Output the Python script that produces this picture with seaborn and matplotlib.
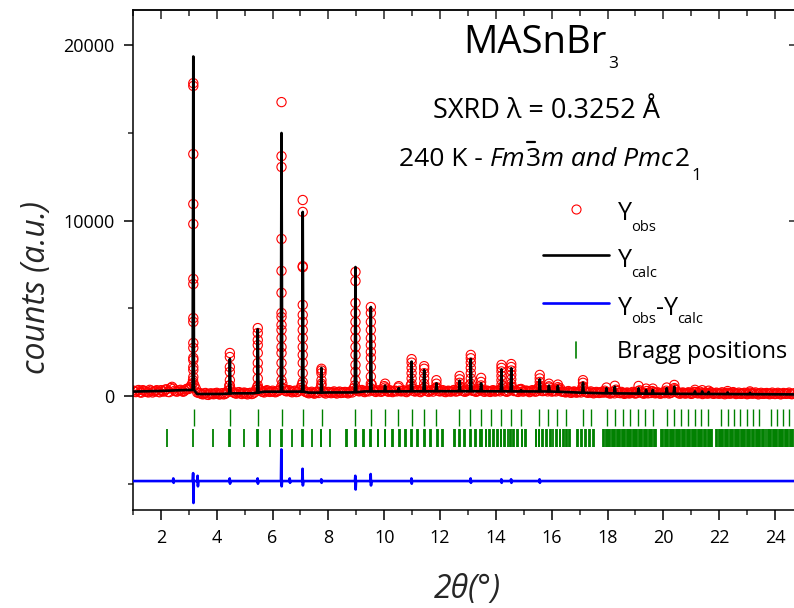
import numpy as np
import matplotlib
matplotlib.use("Agg")
import matplotlib.pyplot as plt
from matplotlib.ticker import MultipleLocator, FixedLocator
from matplotlib.lines import Line2D
import seaborn as sns

# ---------------- data ----------------
# calculated-profile baseline anchors
calc_base_x = [1.0, 2.0, 2.9, 3.3, 3.6, 4.2, 4.6, 5.3, 5.7, 6.2, 7.0, 7.3, 7.7,
               8.0, 8.8, 9.3, 10.5, 12.0, 14.0, 16.0, 17.0, 18.0, 20.0, 22.0, 24.75]
calc_base_y = [250, 285, 340, 110, 110, 115, 150, 150, 245, 245, 250, 190, 190,
               200, 200, 260, 260, 270, 265, 250, 190, 150, 125, 110, 90]

# Bragg peaks: position, calculated height, profile foot
peak_pos = [3.16, 4.47, 5.47, 6.32, 7.08, 7.75, 8.97, 9.52, 10.03, 10.52, 10.98,
            11.43, 11.87, 12.70, 13.10, 13.47, 14.20, 14.55, 14.90, 15.57, 15.90,
            16.22, 17.12, 17.96, 18.26, 19.11, 19.38, 19.62, 20.12, 20.39, 21.13,
            21.39, 21.62, 22.30, 23.10]
peak_calc = [19350, 2110, 3800, 14990, 10490, 1600, 7350, 5070, 590, 450, 1960,
             1480, 720, 870, 2110, 720, 1520, 1580, 330, 950, 590,
             570, 760, 440, 530, 440, 340, 340, 440, 530, 260,
             260, 230, 200, 180]
peak_foot = [340, 140, 190, 245, 240, 190, 210, 260, 260, 260, 265,
             265, 268, 270, 268, 268, 265, 263, 260, 258, 255,
             240, 185, 150, 147, 135, 130, 128, 124, 122, 117,
             115, 113, 108, 100]
# observed points stacked on each peak
peak_obs = [
    [17830, 17670, 13790, 10940, 9800, 6670, 6380, 4440, 4220, 3020, 2740, 2170, 2050, 1650, 1480, 1080, 750],
    [2450, 2220, 1650, 1370, 900, 600],
    [3870, 3590, 3190, 2900, 2450, 1880, 1480, 1000, 600],
    [16750, 13670, 13050, 8950, 7130, 5880, 4730, 4500, 4050, 3760, 3300, 2790, 2450, 1880, 1370, 900],
    [11170, 10490, 7400, 7340, 5190, 4620, 4220, 3760, 3300, 2790, 2340, 1880, 1300, 800],
    [1550, 1450, 1300, 900, 600],
    [7070, 6550, 5300, 4730, 4220, 3760, 3300, 2790, 2340, 1770, 1370, 900],
    [5070, 4730, 4220, 3760, 3300, 2900, 2510, 2170, 1650, 1100, 700],
    [700, 480],
    [560],
    [2100, 1900, 1600, 1300, 1000, 700],
    [1700, 1550, 1300, 1000, 700],
    [900, 700, 500],
    [1140, 950, 750, 550],
    [2340, 2150, 1900, 1600, 1300, 1000, 700],
    [1030, 800, 600],
    [1770, 1600, 1400, 1150, 900, 650],
    [1820, 1650, 1450, 1200, 950, 700],
    [400],
    [1200, 1000, 800, 600],
    [700, 550],
    [650, 500],
    [900, 750, 550],
    [480], [580], [570], [420], [420], [480], [630, 450],
    [350], [330], [300], [280], [260],
]

# observed background, one point every 0.1 deg from 1.0 to 24.7
obs_bg_start, obs_bg_step = 1.0, 0.1
obs_bg = [
    310, 220, 340, 190, 290, 230, 350, 200, 280, 240,
    330, 250, 380, 220, 520, 300, 260, 350, 240, 380,
    400, 650, 600, 200, 160, 90, 170, 60, 150, 100,
    180, 80, 160, 120, 300, 380, 200, 130, 220, 110,
    190, 90, 180, 140, 350, 420, 260, 200, 330, 230,
    300, 210, 280, 500, 420, 260, 330, 210, 300, 240,
    450, 380, 220, 150, 240, 130, 230, 400, 250, 140,
    230, 160, 260, 140, 250, 180, 230, 150, 260, 420,
    380, 260, 340, 220, 300, 460, 350, 230, 320, 240,
    560, 280, 330, 220, 300, 480, 260, 320, 220, 350,
    420, 250, 330, 220, 420, 300, 240, 330, 380, 420,
    260, 330, 220, 300, 250, 340, 260, 420, 300, 240,
    330, 480, 300, 240, 420, 330, 240, 300, 230, 330,
    260, 320, 420, 300, 240, 420, 450, 300, 230, 350,
    260, 300, 220, 330, 250, 420, 450, 280, 330, 480,
    250, 300, 400, 440, 250, 200, 280, 180, 260, 190,
    250, 500, 240, 180, 260, 150, 230, 170, 240, 300,
    220, 140, 230, 360, 180, 230, 120, 200, 150, 230,
    140, 280, 200, 130, 280, 190, 280, 150, 210, 130,
    210, 300, 140, 200, 380, 210, 130, 200, 140, 210,
    120, 230, 160, 250, 110, 200, 140, 220, 120, 190,
    130, 210, 100, 180, 140, 220, 110, 190, 120, 180,
    100, 190, 130, 200, 90, 180, 120, 170, 100, 190,
    110, 180, 90, 170, 120, 190, 100, 160,
]
# observed background at the half steps 1.05 ... 24.65
obs_bg_mid = [
    250, 300, 210, 330, 260, 200, 300, 260, 330, 210,
    280, 360, 230, 450, 420, 250, 320, 280, 300, 420,
    500, 900, 420, 180, 120, 140, 80, 130, 110, 160,
    120, 130, 90, 180, 600, 250, 160, 200, 150, 180,
    130, 160, 110, 200, 500, 330, 230, 280, 260, 250,
    240, 260, 330, 700, 300, 290, 250, 270, 220, 320,
    650, 260, 190, 200, 170, 200, 170, 700, 190, 220,
    200, 210, 180, 220, 170, 220, 190, 210, 200, 600,
    300, 300, 260, 280, 260, 650, 270, 300, 260, 290,
    380, 240, 270, 290, 260, 300, 280, 260, 300, 600,
    290, 300, 260, 300, 500, 260, 300, 250, 450, 280,
    300, 250, 280, 260, 300, 260, 300, 500, 260, 280,
    600, 300, 260, 280, 400, 260, 300, 260, 290, 260,
    300, 260, 550, 260, 300, 550, 280, 260, 380, 260,
    300, 280, 260, 290, 260, 500, 280, 300, 260, 350,
    280, 260, 380, 250, 230, 240, 200, 220, 210, 230,
    200, 380, 200, 210, 190, 200, 190, 200, 190, 210,
    160, 200, 150, 280, 160, 170, 160, 150, 180, 160,
    170, 320, 160, 170, 150, 170, 220, 170, 150, 170,
    160, 230, 170, 260, 330, 150, 170, 150, 170, 150,
    150, 220, 150, 180, 160, 140, 160, 150, 160, 140,
    150, 140, 160, 130, 150, 160, 140, 130, 150, 140,
    130, 140, 150, 130, 140, 120, 150, 130, 140, 120,
    130, 140, 120, 130, 140, 120, 130,
]

# difference curve (offset) and its spikes
diff_level = -4850
diff_x_range = [1.0, 24.75]
diff_spike_pos = [2.45, 3.16, 3.32, 4.47, 5.47, 6.32, 6.62, 7.08, 7.75, 8.97,
                  9.52, 10.98, 13.10, 14.20, 14.55, 15.57]
diff_spike_up = [-4700, -4400, -4550, -4700, -4700, -3050, -4700, -4150, -4750, -4550,
                 -4450, -4700, -4700, -4750, -4750, -4750]
diff_spike_dn = [-4950, -6100, -5150, -5000, -5000, -5150, -4950, -5100, -4950, -5330,
                 -5100, -5000, -4950, -4950, -4950, -4950]

# Bragg positions, phase 1 (Fm-3m) and phase 2 (Pmc2_1)
bragg1 = [3.17, 4.48, 5.49, 6.34, 7.08, 7.76, 8.96, 9.51, 10.03, 10.51, 10.98,
          11.43, 11.87, 12.69, 13.08, 13.46, 13.83, 14.19, 14.55, 14.89, 15.56,
          15.88, 16.20, 16.51, 17.11, 17.41, 17.98, 18.26, 18.54, 18.81, 19.08,
          19.35, 19.61, 20.13, 20.38, 20.63, 20.87, 21.12, 21.36, 21.60, 22.07,
          22.30, 22.53, 22.76, 22.98, 23.20, 23.43, 23.86, 24.08, 24.29, 24.50]
bragg2 = [2.21, 3.14, 3.86, 4.45, 4.47, 4.99, 5.45, 5.48, 5.91, 6.31, 6.34, 6.70,
          7.05, 7.08, 7.40, 7.72, 7.75, 8.06, 8.63, 8.66, 8.95, 8.98, 9.24, 9.27,
          9.50, 9.53, 9.76, 9.79, 10.01, 10.04, 10.27, 10.30, 10.52, 10.55, 10.76,
          10.79, 10.97, 11.00, 11.19, 11.22, 11.43, 11.46, 11.64, 11.67, 11.88,
          11.91, 12.08, 12.11,
          12.49, 12.52, 12.67, 12.70, 12.86, 12.89, 13.08, 13.11, 13.26, 13.29,
          13.44, 13.47, 13.51, 13.63, 13.66, 13.76, 13.80, 13.91, 13.94, 14.03,
          14.06, 14.17, 14.20, 14.29, 14.32, 14.42, 14.51, 14.54, 14.63, 14.66,
          14.76, 14.79, 14.92, 14.95, 15.04, 15.08,
          15.42, 15.45, 15.53, 15.56, 15.65, 15.68, 15.79, 15.82, 15.94, 15.97,
          16.05, 16.17, 16.20, 16.28, 16.31, 16.40, 16.43, 16.51, 16.54, 16.63, 16.66,
          16.92, 16.95, 17.04, 17.07, 17.19, 17.22, 17.35, 17.38, 17.49, 17.52,
          17.84, 17.88, 17.93, 17.97, 18.02, 18.06, 18.10, 18.15, 18.19, 18.24,
          18.28, 18.33, 18.37, 18.41, 18.46, 18.50, 18.54, 18.59, 18.63, 18.68,
          18.72, 18.77, 18.81, 18.85, 18.90, 18.94, 18.99, 19.03, 19.07, 19.12,
          19.16, 19.21, 19.25, 19.29, 19.34, 19.38, 19.43, 19.47, 19.51, 19.56,
          19.60, 19.65, 19.69, 19.74,
          19.91, 19.95, 20.00, 20.04, 20.08, 20.13, 20.17, 20.22, 20.26, 20.30,
          20.35, 20.39, 20.44, 20.48, 20.52, 20.57, 20.61, 20.66, 20.70, 20.74,
          20.79, 20.83, 20.88, 20.92, 20.96, 21.01, 21.05, 21.10, 21.14, 21.18,
          21.23, 21.27, 21.32, 21.36, 21.40, 21.45, 21.49, 21.54, 21.58, 21.62,
          21.67, 21.71, 21.75,
          21.89, 21.93, 21.98, 22.02, 22.06, 22.11, 22.15, 22.20, 22.24, 22.28,
          22.33, 22.37, 22.42, 22.46, 22.50, 22.55, 22.59, 22.64, 22.68, 22.72,
          22.77, 22.81, 22.86, 22.90, 22.94, 22.99, 23.03, 23.08, 23.12, 23.16,
          23.21, 23.25, 23.30, 23.34, 23.38, 23.43, 23.47, 23.52, 23.56, 23.59,
          23.69, 23.73, 23.78, 23.82, 23.86, 23.91, 23.95, 24.00, 24.04, 24.08,
          24.13, 24.17, 24.22, 24.26, 24.30, 24.35, 24.39, 24.44, 24.48, 24.52,
          24.57, 24.61, 24.66, 24.70]
bragg1_span = [-740, -1710]
bragg2_span = [-1890, -2910]

x_ticks = [2, 4, 6, 8, 10, 12, 14, 16, 18, 20, 22, 24]
y_ticks = [0, 10000, 20000]

# ---------------- assemble plotting tables ----------------
obs_x = [round(obs_bg_start + i * obs_bg_step, 2) for i in range(len(obs_bg))]
obs_y = list(obs_bg)
obs_x += [round(obs_bg_start + obs_bg_step / 2 + i * obs_bg_step, 3) for i in range(len(obs_bg_mid))]
obs_y += list(obs_bg_mid)
for p, vals in zip(peak_pos, peak_obs):
    obs_x += [p] * len(vals)
    obs_y += vals

cx = list(calc_base_x)
cy = list(calc_base_y)
for p, h, f in zip(peak_pos, peak_calc, peak_foot):
    cx += [p - 0.025, p, p + 0.025]
    cy += [f, h, f]
order = np.argsort(cx, kind="stable")
cx = np.array(cx)[order]
cy = np.array(cy)[order]

dx = list(diff_x_range)
dy = [diff_level, diff_level]
for p, u, d in zip(diff_spike_pos, diff_spike_up, diff_spike_dn):
    dx += [p - 0.02, p - 0.006, p + 0.006, p + 0.02]
    dy += [diff_level, u, d, diff_level]
order = np.argsort(dx, kind="stable")
dx = np.array(dx)[order]
dy = np.array(dy)[order]

# ---------------- figure ----------------
sns.set_theme(style="ticks")
FONT = ["Open Sans", "DejaVu Sans"]
plt.rcParams["font.family"] = FONT
plt.rcParams["axes.linewidth"] = 1.1

W, H = 794, 608
fig = plt.figure(figsize=(W / 100, H / 100), dpi=100)
fig.patch.set_facecolor("white")
ax = fig.add_axes([133 / W, (H - 510) / H, (796 - 133) / W, (510 - 10) / H])
ax.set_facecolor("white")

sns.scatterplot(x=obs_x, y=obs_y, ax=ax, marker="o", s=44,
                color="#ff0000", legend=False)
obs_coll = ax.collections[-1]
obs_coll.set_facecolor("none")
obs_coll.set_edgecolor("#ff0000")
obs_coll.set_linewidth(0.8)
obs_coll.set_zorder(2)

sns.lineplot(x=cx, y=cy, ax=ax, color="black", linewidth=1.9,
             estimator=None, sort=False)
ax.lines[-1].set_zorder(5)
sns.lineplot(x=dx, y=dy, ax=ax, color="#0000ff", linewidth=1.9,
             estimator=None, sort=False)
ax.lines[-1].set_zorder(5)
ax.vlines(bragg1, bragg1_span[0], bragg1_span[1], color="#008000", linewidth=1.0, zorder=2)
ax.vlines(bragg2, bragg2_span[0], bragg2_span[1], color="#008000", linewidth=1.3, zorder=2)

ax.set_xlim(1.0, 24.75)
ax.set_ylim(-6500, 22000)
ax.set_xlabel("")
ax.set_ylabel("")
for s in ax.spines.values():
    s.set_visible(True)
    s.set_color("black")
    s.set_linewidth(1.1)

ax.xaxis.set_major_locator(FixedLocator(x_ticks))
ax.xaxis.set_minor_locator(MultipleLocator(1))
ax.yaxis.set_major_locator(FixedLocator(y_ticks))
ax.yaxis.set_minor_locator(MultipleLocator(5000))
ax.tick_params(axis="x", which="major", direction="out", length=7.5, width=1.1,
               labelsize=13, pad=6, colors="black", top=False)
ax.tick_params(axis="x", which="minor", direction="out", length=3.8, width=1.1,
               top=False)
ax.tick_params(axis="y", which="major", direction="out", length=6.5, width=1.1,
               labelsize=13, pad=7, colors="black", right=False)
ax.tick_params(axis="y", which="minor", direction="out", length=3.5, width=1.1,
               right=False)
ax.set_xticklabels([str(t) for t in x_ticks])
ax.set_yticklabels([str(t) for t in y_ticks])

sec_top = ax.secondary_xaxis("top")
sec_top.xaxis.set_major_locator(FixedLocator(x_ticks))
sec_top.xaxis.set_minor_locator(MultipleLocator(1))
sec_top.tick_params(which="major", direction="in", length=6.5, width=1.1, labeltop=False)
sec_top.tick_params(which="minor", direction="in", length=4, width=1.1, labeltop=False)
sec_top.spines["top"].set_linewidth(1.1)

sec_right = ax.secondary_yaxis("right")
sec_right.yaxis.set_major_locator(FixedLocator(y_ticks))
sec_right.yaxis.set_minor_locator(FixedLocator([]))
sec_right.tick_params(which="major", direction="in", length=5, width=1.1, labelright=False)

# ---------------- text helpers ----------------
fig.canvas.draw()
renderer = fig.canvas.get_renderer()


def put(s, x, ybase, size, style="normal", **kw):
    t = fig.text(x / W, 1 - ybase / H, s, fontsize=size, style=style,
                 ha="left", va="baseline", color="black", family=FONT, **kw)
    bb = t.get_window_extent(renderer)
    return t, bb


# title
_, bb = put("MASnBr", 463, 53, 27.5)
put("3", bb.x1 + 2, 68, 12.5)
put("SXRD λ = 0.3252 Å", 433, 118, 19.5)

_, bb = put("240 K - ", 399, 166.5, 19)
_, bb = put("Fm", bb.x1, 166.5, 19, "italic")
t3, bb3 = put("3", bb.x1 + 1, 166.5, 19)
fig.add_artist(Line2D([(bb3.x0 + 1) / W, (bb3.x0 + 9) / W],
                      [1 - 141.5 / H, 1 - 141.5 / H], color="black", linewidth=1.6))
_, bb = put("m and Pmc", bb3.x1, 166.5, 19, "italic")
_, bb = put("2", bb.x1 + 1, 166.5, 19)
put("1", bb.x1 + 2, 180, 12.5)

# legend
fig.add_artist(Line2D([576 / W], [1 - 209 / H], marker="o", markersize=6.5,
                      markerfacecolor="none", markeredgecolor="#ff0000",
                      markeredgewidth=0.8, linestyle="none"))
fig.add_artist(Line2D([543 / W, 609 / W], [1 - 255 / H] * 2, color="black", linewidth=1.9))
fig.add_artist(Line2D([543 / W, 609 / W], [1 - 303 / H] * 2, color="#0000ff", linewidth=1.9))
fig.add_artist(Line2D([576 / W] * 2, [1 - 342 / H, 1 - 358 / H], color="#008000", linewidth=1.2))

_, bb = put("Y", 618, 220, 18)
put("obs", bb.x1 - 1, 230.7, 10.5)
_, bb = put("Y", 618, 267.3, 18)
put("calc", bb.x1 - 1, 277.3, 10.5)
_, bb = put("Y", 618, 315, 18)
_, bb = put("obs", bb.x1 - 1, 323.3, 10.5)
_, bb = put("-", bb.x1, 315, 18)
_, bb = put("Y", bb.x1, 315, 18)
put("calc", bb.x1 - 1, 323.3, 10.5)
put("Bragg positions", 617, 358, 17)

# axis labels
fig.text(37 / W, 1 - 287 / H, "counts (a.u.)", rotation=90, fontsize=23,
         style="italic", ha="center", va="center", family=FONT)
fig.text(467 / W, 1 - 598 / H, "2θ(°)", fontsize=23, style="italic",
         ha="center", va="baseline", family=FONT)

fig.savefig("out.png", dpi=100, facecolor="white")
